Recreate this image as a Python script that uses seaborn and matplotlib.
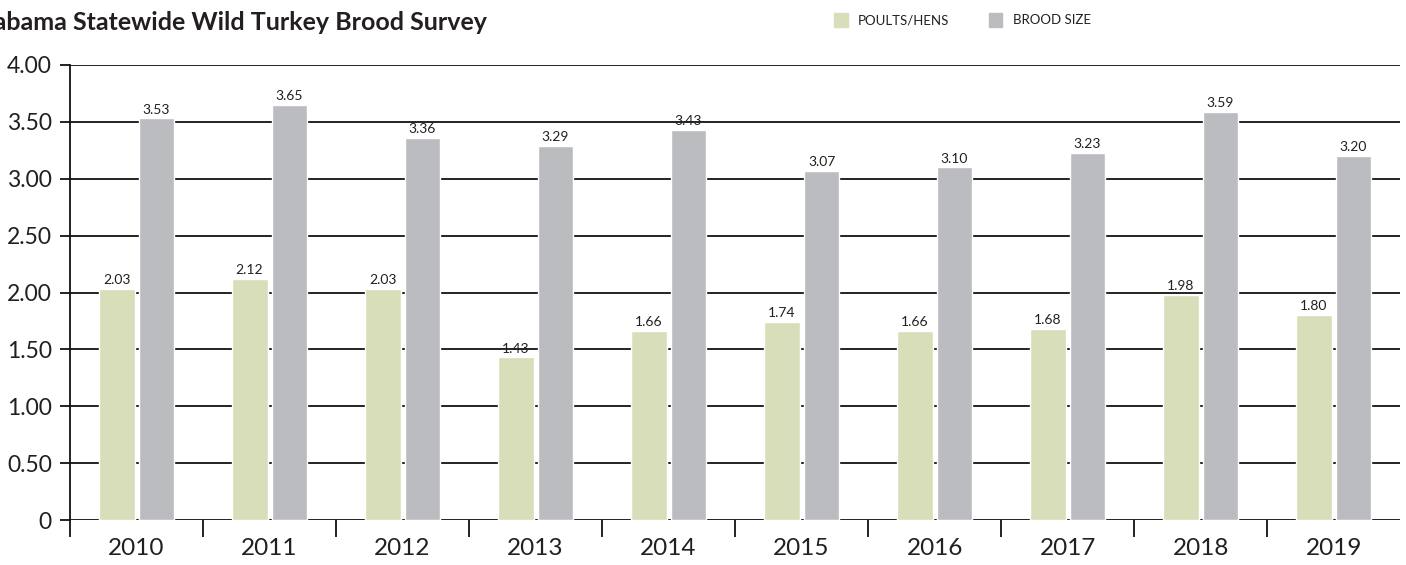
import matplotlib
matplotlib.use("Agg")
import matplotlib.pyplot as plt
import matplotlib.patches as mpatches
import seaborn as sns
import pandas as pd

years = ["2010", "2011", "2012", "2013", "2014", "2015", "2016", "2017", "2018", "2019"]
poults_hens = [2.03, 2.12, 2.03, 1.43, 1.66, 1.74, 1.66, 1.68, 1.98, 1.80]
brood_size = [3.53, 3.65, 3.36, 3.29, 3.43, 3.07, 3.10, 3.23, 3.59, 3.20]
series_names = ["POULTS/HENS", "BROOD SIZE"]
colors = ["#d8deba", "#bbbcc0"]
y_ticks = [0, 0.5, 1.0, 1.5, 2.0, 2.5, 3.0, 3.5, 4.0]

df = pd.DataFrame({
    "year": years * 2,
    "value": poults_hens + brood_size,
    "series": [series_names[0]] * len(years) + [series_names[1]] * len(years),
})

sns.set_theme(style="white")
plt.rcParams["font.family"] = ["Lato", "DejaVu Sans"]

fig = plt.figure(figsize=(14.06, 5.65), dpi=100)
ax = fig.add_axes([0.0498, 0.0796, 0.946, 0.8054])

sns.barplot(data=df, x="year", y="value", hue="series", palette=colors,
            width=0.6, gap=0.1, saturation=1, legend=False, ax=ax, zorder=1)

for cont in ax.containers:
    ax.bar_label(cont, fmt="%.2f", padding=2, fontsize=10, color="#231f20")

ax.set_ylim(0, 4.0)
ax.set_xlim(-0.5, len(years) - 0.5)
ax.set_yticks(y_ticks)
ax.set_yticklabels(["0" if v == 0 else f"{v:.2f}" for v in y_ticks], fontsize=16.5, color="#231f20")
for v in y_ticks:
    ax.axhline(v, color="#111111", lw=1.3, zorder=0)

# boundaries get tick marks, years sit between them
ax.set_xticks([i - 0.5 for i in range(len(years))])
ax.set_xticklabels([])
ax.set_xticks(range(len(years)), minor=True)
ax.set_xticklabels(years, minor=True, fontsize=17.5, color="#231f20")
ax.tick_params(axis="x", which="major", direction="out", length=12, width=1.3, color="#111111", bottom=True)
ax.tick_params(axis="x", which="minor", length=0, pad=13, bottom=True)
ax.tick_params(axis="y", direction="out", length=7, width=1.3, color="#111111", left=True, pad=6)

ax.set_xlabel("")
ax.set_ylabel("")
for s in ["top", "right", "bottom"]:
    ax.spines[s].set_visible(False)
ax.spines["left"].set_color("#111111")
ax.spines["left"].set_linewidth(1.3)

fig.text(-0.0215, 0.96, "Alabama Statewide Wild Turkey Brood Survey", fontsize=18,
         fontweight="bold", color="#231f20", va="center", ha="left")

handles = [mpatches.Patch(color=c, label=n) for c, n in zip(colors, series_names)]
fig.legend(handles=handles, loc="center left", bbox_to_anchor=(0.585, 0.965), ncol=2,
           frameon=False, fontsize=9.5, handlelength=1.0, handleheight=1.3,
           handletextpad=0.8, columnspacing=3.0, labelcolor="#231f20")

fig.savefig("out.png", dpi=100)
